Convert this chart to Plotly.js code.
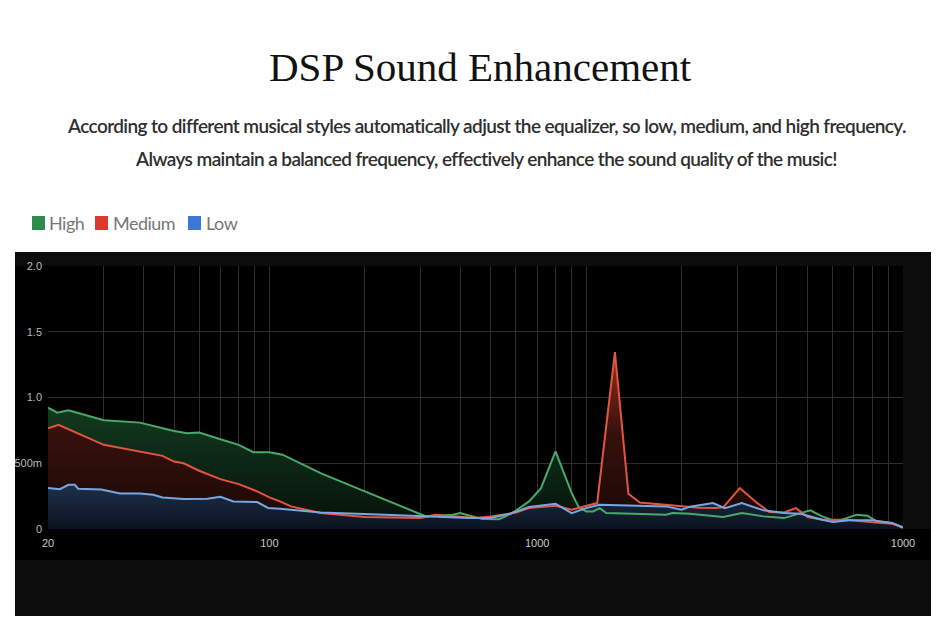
<!DOCTYPE html>
<html>
<head>
<meta charset="utf-8">
<script src="https://cdn.plot.ly/plotly-3.0.1.min.js"></script>
<style>html,body{margin:0;padding:0;background:#fff;}#chart{width:950px;height:633px;}</style>
</head>
<body>
<div id="chart"></div>
<script>
// ---- data ----
const seriesNames = ["High", "Medium", "Low"];

const highFreq = [20,21.4,23.2,30,39,50,55,60,70,80,89,100,110,145,200,300,312,379,400,429,471,530,557,600,660,720,800,900,944,1000,1052,1103,1157,1405,1785,1872,2125,2706,3100,3630,4213,4750,5100,5560,6160,7160,7720,8260,9230,10000];
const highVal  = [0.923,0.885,0.903,0.827,0.809,0.746,0.728,0.733,0.683,0.64,0.584,0.584,0.565,0.425,0.286,0.109,0.096,0.109,0.121,0.101,0.076,0.074,0.096,0.14,0.21,0.311,0.59,0.273,0.172,0.134,0.134,0.159,0.121,0.116,0.109,0.121,0.116,0.091,0.121,0.096,0.083,0.121,0.142,0.096,0.058,0.109,0.101,0.058,0.046,0.015];

const medFreq = [20,21.6,30,40,46,50,53.6,60,70,80,91.5,100,108,117,145,200,300,333,400,450,500,600,660,800,900,1000,1083,1232,1359,1476,1960,2270,2570,2706,3054,3456,3780,4213,4593,5000,5560,6601,8000,9230,10000];
const medVal  = [0.766,0.792,0.64,0.582,0.556,0.513,0.5,0.443,0.379,0.341,0.286,0.24,0.21,0.172,0.121,0.091,0.083,0.109,0.096,0.083,0.096,0.125,0.159,0.177,0.147,0.177,0.197,1.345,0.268,0.202,0.172,0.162,0.159,0.165,0.311,0.2,0.13,0.126,0.159,0.091,0.071,0.071,0.051,0.04,0.012];

const lowFreq = [20,21.8,23.2,24.3,24.9,29.5,33.8,39,43,46,53.6,63.7,70,77,91.5,99,108,145,200,300,430,500,575,660,800,900,1000,1103,1405,1785,2000,2125,2512,2741,3100,3630,4213,4750,5560,6000,6770,8000,9230,10000];
const lowVal  = [0.311,0.303,0.336,0.336,0.306,0.301,0.27,0.27,0.26,0.24,0.228,0.23,0.245,0.21,0.205,0.16,0.154,0.126,0.114,0.096,0.083,0.083,0.116,0.167,0.192,0.121,0.159,0.185,0.18,0.172,0.147,0.17,0.197,0.159,0.197,0.142,0.121,0.116,0.071,0.053,0.066,0.066,0.046,0.008];

const gridFreqs = [20,30,40,50,60,70,80,90,100,200,300,400,500,600,700,800,900,1000,2000,3000,4000,5000,6000,7000,8000,9000,10000];
const gridLabels = ["20","","","","","","","","100","","","","","","1000","","","","","","","","","","","","1000"];
const yTickVals = [0, 0.5, 1.0, 1.5, 2.0];
const yTickText = ["0", "500m", "1.0", "1.5", "2.0"];

const titleText = "DSP Sound Enhancement";
const subLine1 = "According to different musical styles automatically adjust the equalizer, so low, medium, and high frequency.";
const subLine2 = "Always maintain a balanced frequency, effectively enhance the sound quality of the music!";

// ---- styles ----
const lineColors = ["#4aa86a", "#e4553f", "#78a6e0"];
const legendColors = ["#2e8b4f", "#d93a2e", "#3b78d8"];
const fillScales = [
  [[0, "rgb(5,16,9)"], [1, "rgb(18,58,31)"]],
  [[0, "rgb(24,8,6)"], [0.55, "rgb(55,17,12)"], [1, "rgb(155,47,34)"]],
  [[0, "rgb(11,19,31)"], [1, "rgb(30,48,74)"]]
];
const fillStops = [0.92, 1.35, 0.34];

const xs = [highFreq, medFreq, lowFreq];
const ys = [highVal, medVal, lowVal];

const traces = [];
for (let i = 0; i < 3; i++) {
  traces.push({
    type: "scatter", mode: "lines", x: xs[i], y: ys[i],
    fill: "tozeroy",
    fillgradient: {type: "vertical", start: 0, stop: fillStops[i], colorscale: fillScales[i]},
    line: {width: 0, color: "rgba(0,0,0,0)"},
    showlegend: false, hoverinfo: "skip", name: seriesNames[i]
  });
}
for (let i = 0; i < 3; i++) {
  traces.push({
    type: "scatter", mode: "lines", x: xs[i], y: ys[i],
    line: {width: 2, color: lineColors[i]},
    showlegend: false, name: seriesNames[i]
  });
}

// pixel -> paper helpers (plot area: x 48..903, y 266..529)
const L = 48, R = 903, T = 266, B = 529;
const px = v => (v - L) / (R - L);
const py = v => (B - v) / (B - T);

const shapes = [
  {type: "rect", xref: "paper", yref: "paper", layer: "below", x0: px(15), x1: px(931), y0: py(616), y1: py(252), fillcolor: "#0c0c0c", line: {width: 0}},
  {type: "rect", xref: "paper", yref: "paper", layer: "below", x0: px(15), x1: px(903), y0: py(560), y1: py(266), fillcolor: "#000000", line: {width: 0}},
  {type: "rect", xref: "paper", yref: "paper", layer: "below", x0: px(903), x1: px(931), y0: py(560), y1: py(529), fillcolor: "#000000", line: {width: 0}}
];
const legX = [[32, 45, 47], [95, 108, 111], [188, 201, 204]];
const annotations = [
  {xref: "paper", yref: "paper", x: px(480), y: py(67), xanchor: "center", yanchor: "middle", showarrow: false,
   text: titleText, font: {family: "Liberation Serif, Times New Roman, serif", size: 41, color: "#111"}},
  {xref: "paper", yref: "paper", x: px(486), y: py(126), xanchor: "center", yanchor: "middle", showarrow: false,
   text: '<span style="letter-spacing:-0.6px">' + subLine1 + '</span>', font: {family: "Lato, Open Sans, sans-serif", size: 19, weight: 600, color: "#2e2e2e"}},
  {xref: "paper", yref: "paper", x: px(486), y: py(158), xanchor: "center", yanchor: "middle", showarrow: false,
   text: '<span style="letter-spacing:-0.6px">' + subLine2 + '</span>', font: {family: "Lato, Open Sans, sans-serif", size: 19, weight: 600, color: "#2e2e2e"}}
];
for (let i = 0; i < 3; i++) {
  shapes.push({type: "rect", xref: "paper", yref: "paper", x0: px(legX[i][0]), x1: px(legX[i][1]), y0: py(230), y1: py(216), fillcolor: legendColors[i], line: {width: 0}});
  annotations.push({xref: "paper", yref: "paper", x: px(legX[i][2]), y: py(223), xanchor: "left", yanchor: "middle", showarrow: false,
    text: '<span style="letter-spacing:-0.5px">' + seriesNames[i] + '</span>', font: {family: "Lato, Open Sans, sans-serif", size: 18, color: "#777"}});
}

const layout = {
  width: 950, height: 633,
  margin: {l: L, r: 950 - R, t: T, b: 633 - B, pad: 0},
  paper_bgcolor: "#ffffff", plot_bgcolor: "#000000",
  showlegend: false,
  xaxis: {
    type: "log", range: [Math.log10(20), 4],
    tickmode: "array", tickvals: gridFreqs, ticktext: gridLabels,
    showgrid: true, gridcolor: "#2e2e2e", gridwidth: 1, zeroline: false,
    showline: false, ticks: "",
    tickfont: {family: "Liberation Sans Narrow, Liberation Sans, Arial, sans-serif", size: 11, color: "#c8c8c8"},
    ticklabelstandoff: 6
  },
  yaxis: {
    range: [0, 2], tickmode: "array", tickvals: yTickVals, ticktext: yTickText,
    showgrid: true, gridcolor: "#2e2e2e", gridwidth: 1, zeroline: false,
    showline: false, ticks: "",
    tickfont: {family: "Liberation Sans Narrow, Liberation Sans, Arial, sans-serif", size: 11, color: "#b8b8b8"},
    ticklabelstandoff: 5
  },
  shapes: shapes,
  annotations: annotations
};

Plotly.newPlot("chart", traces, layout, {displayModeBar: false, staticPlot: true});
</script>
</body>
</html>
